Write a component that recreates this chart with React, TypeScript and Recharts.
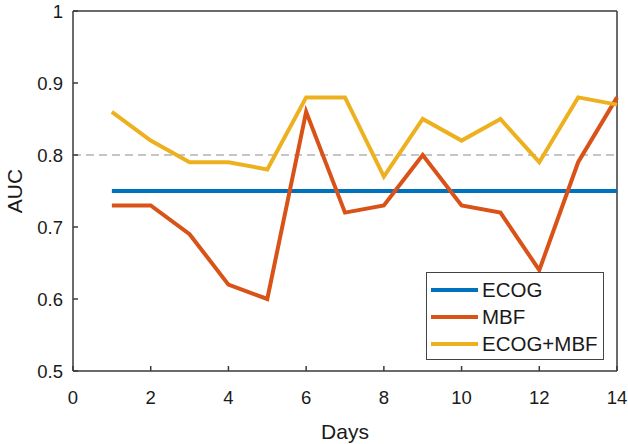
import React from 'react';
import { LineChart, Line, XAxis, YAxis, ReferenceLine } from 'recharts';

const days = [1, 2, 3, 4, 5, 6, 7, 8, 9, 10, 11, 12, 13, 14];
const ecog = [0.75, 0.75, 0.75, 0.75, 0.75, 0.75, 0.75, 0.75, 0.75, 0.75, 0.75, 0.75, 0.75, 0.75];
const mbf = [0.73, 0.73, 0.69, 0.62, 0.60, 0.86, 0.72, 0.73, 0.80, 0.73, 0.72, 0.64, 0.79, 0.88];
const ecogMbf = [0.86, 0.82, 0.79, 0.79, 0.78, 0.88, 0.88, 0.77, 0.85, 0.82, 0.85, 0.79, 0.88, 0.87];
const xTicks = [0, 2, 4, 6, 8, 10, 12, 14];
const yTicks = [0.5, 0.6, 0.7, 0.8, 0.9, 1];
const xEdges = [0, 14];
const yEdges = [0.5, 1];
const seriesNames = ['ECOG', 'MBF', 'ECOG+MBF'];
const colors = ['#0072BD', '#D95319', '#EDB120'];

const data = days.map((d, i) => ({ day: d, ecog: ecog[i], mbf: mbf[i], both: ecogMbf[i] }));

const FONT = 'Arial, "Liberation Sans", Helvetica, sans-serif';
const AXIS = '#3a3a3a';
const TEXT = '#1a1a1a';

const BottomTick = (p: any) => (
  <g>
    <line x1={p.x} x2={p.x} y1={p.y} y2={p.y - 5} stroke={AXIS} strokeWidth={1.5} />
    <text x={p.x} y={p.y + 33} textAnchor="middle" fill={TEXT} fontSize={18.5} fontFamily={FONT}>
      {String(p.payload.value)}
    </text>
  </g>
);
const TopTick = (p: any) => (
  <line x1={p.x} x2={p.x} y1={p.y} y2={p.y + 5} stroke={AXIS} strokeWidth={1.5} />
);
const LeftTick = (p: any) => (
  <g>
    <line x1={p.x} x2={p.x + 5} y1={p.y} y2={p.y} stroke={AXIS} strokeWidth={1.5} />
    <text x={p.x - 10} y={p.y} dy="0.36em" textAnchor="end" fill={TEXT} fontSize={18.5} fontFamily={FONT}>
      {String(p.payload.value)}
    </text>
  </g>
);
const RightTick = (p: any) => (
  <line x1={p.x} x2={p.x - 5} y1={p.y} y2={p.y} stroke={AXIS} strokeWidth={1.5} />
);

const LegendBox = () => (
  <div
    style={{
      position: 'absolute',
      left: 426,
      top: 272,
      width: 178,
      height: 88,
      border: '1px solid #444',
      background: '#fff',
      boxSizing: 'border-box',
      paddingTop: 3,
      fontFamily: FONT,
      fontSize: 20.5,
      color: TEXT,
    }}
  >
    {seriesNames.map((n, i) => (
      <div key={n} style={{ display: 'flex', alignItems: 'center', height: 27 }}>
        <div style={{ marginLeft: 4, width: 47, height: 4, background: colors[i] }} />
        <span style={{ marginLeft: 4, lineHeight: '27px' }}>{n}</span>
      </div>
    ))}
  </div>
);

export default function App() {
  return (
    <div style={{ position: 'absolute', left: 0, top: 0, width: 628, height: 444, background: '#fff' }}>
      <LineChart
        width={628}
        height={444}
        data={data}
        margin={{ top: 11, right: 11, bottom: 0, left: 0 }}
        style={{ fontFamily: FONT }}
      >
        <XAxis
          xAxisId="b"
          dataKey="day"
          type="number"
          domain={[0, 14]}
          ticks={xTicks}
          interval={0}
          height={73}
          axisLine={false}
          tickLine={false}
          tickSize={0}
          tickMargin={0}
          tick={<BottomTick />}
          label={{ value: 'Days', position: 'insideBottom', offset: 5, fill: TEXT, fontSize: 21 }}
        />
        <XAxis
          xAxisId="t"
          orientation="top"
          dataKey="day"
          type="number"
          domain={[0, 14]}
          ticks={xTicks}
          interval={0}
          height={0}
          axisLine={false}
          tickLine={false}
          tickSize={0}
          tickMargin={0}
          tick={<TopTick />}
        />
        <YAxis
          yAxisId="l"
          type="number"
          domain={[0.5, 1]}
          ticks={yTicks}
          interval={0}
          width={73}
          axisLine={false}
          tickLine={false}
          tickSize={0}
          tickMargin={0}
          tick={<LeftTick />}
          label={{ value: 'AUC', angle: -90, position: 'center', dx: -22, fill: TEXT, fontSize: 21 }}
        />
        <YAxis
          yAxisId="r"
          orientation="right"
          type="number"
          domain={[0.5, 1]}
          ticks={yTicks}
          interval={0}
          width={0}
          axisLine={false}
          tickLine={false}
          tickSize={0}
          tickMargin={0}
          tick={<RightTick />}
        />
        {xEdges.map((v) => (
          <ReferenceLine key={'x' + v} xAxisId="b" yAxisId="l" x={v} stroke={AXIS} strokeWidth={1.5} ifOverflow="visible" />
        ))}
        {yEdges.map((v) => (
          <ReferenceLine key={'y' + v} xAxisId="b" yAxisId="l" y={v} stroke={AXIS} strokeWidth={1.5} ifOverflow="visible" />
        ))}
        <ReferenceLine xAxisId="b" yAxisId="l" y={0.8} stroke="#8c8c8c" strokeDasharray="8 5" strokeWidth={1} />
        <Line xAxisId="b" yAxisId="l" dataKey="ecog" name="ECOG" stroke={colors[0]} strokeWidth={4} dot={false} isAnimationActive={false} />
        <Line xAxisId="b" yAxisId="l" dataKey="mbf" name="MBF" stroke={colors[1]} strokeWidth={4} dot={false} isAnimationActive={false} strokeLinejoin="miter" />
        <Line xAxisId="b" yAxisId="l" dataKey="both" name="ECOG+MBF" stroke={colors[2]} strokeWidth={4} dot={false} isAnimationActive={false} strokeLinejoin="miter" />
      </LineChart>
      <LegendBox />
    </div>
  );
}
